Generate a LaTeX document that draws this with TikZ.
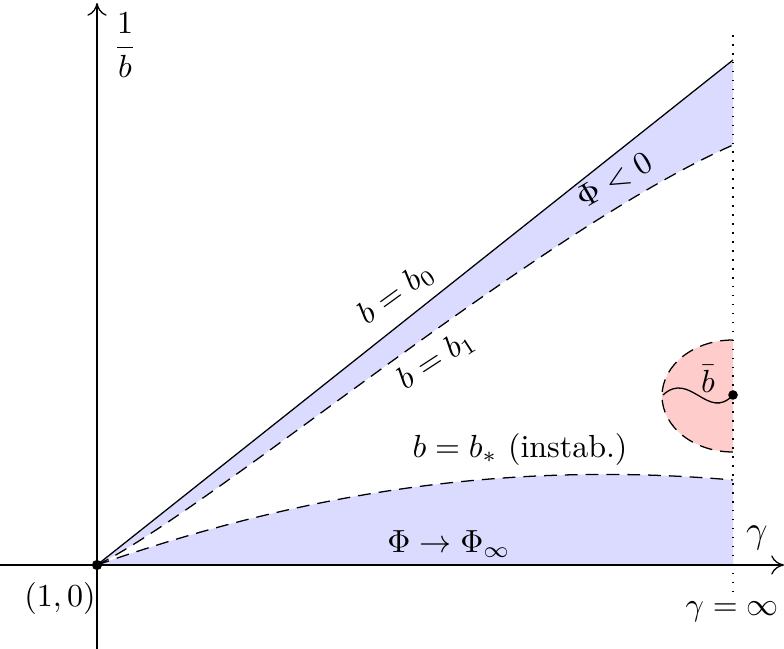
\documentclass[tikz,border=0pt]{standalone}
\usetikzlibrary{arrows.meta}
\begin{document}
\begin{tikzpicture}[x=0.3125pt,y=-0.3125pt,
  dsh/.style={dash pattern=on 4pt off 2.5pt},
  dotln/.style={dash pattern=on 0.5pt off 2.3pt},
  lbl/.style={inner sep=1pt}]
\useasboundingbox (0,0) rectangle (784,649);
\colorlet{wedge}{blue!14}
\colorlet{disc}{red!20}
\coordinate (O) at (97,565);
\coordinate (B0) at (733,60);
\coordinate (B1) at (733,145);
\coordinate (BS) at (733,480);
\coordinate (BB) at (733,395);
\coordinate (AX) at (733,565);
\coordinate (DT) at (733,340);
\coordinate (WL) at (663,395);
\coordinate (XL) at (0,565);
\coordinate (XR) at (784,565);
\coordinate (YB) at (97,649);
\coordinate (YT) at (97,3);
\coordinate (VT) at (733,35);
\coordinate (VB) at (733,594);
% fills
\fill[wedge] (O) -- (B0) -- (B1) .. controls (540,230) and (210,510) .. (O) -- cycle;
\fill[wedge] (O) .. controls (297,495) and (500,460) .. (BS) -- (AX) -- cycle;
\fill[disc] (DT) arc[start angle=270,end angle=90,x radius=71,y radius=56] -- cycle;
% axes
\draw[-{To[length=4pt,width=6pt]}] (XL) -- (XR);
\draw[-{To[length=4pt,width=6pt]}] (YB) -- (YT);
\draw[dotln] (VT) -- (VB);
% curves
\draw (O) -- (B0);
\draw[dsh] (O) .. controls (210,510) and (540,230) .. (B1);
\draw[dsh] (O) .. controls (297,495) and (500,460) .. (BS);
\draw[dsh] (DT) arc[start angle=270,end angle=90,x radius=71,y radius=56];
\draw (WL) .. controls (690,370) and (708,422) .. (BB);
\fill (BB) circle (1.5pt);
\fill (O) circle (1.6pt);
% labels
\node[lbl] (l10) at (60,598) {$(1,0)$};
\node[lbl] (linv) at (125,45) {$\displaystyle\frac{1}{b}$};
\node[lbl] (lg) at (757,538) {\large$\gamma$};
\node[lbl] (lginf) at (732,612) {$\gamma=\infty$};
\node[lbl,rotate=36] (lb0) at (396,294) {$b=b_0$};
\node[lbl,rotate=33] (lb1) at (436,360) {$b=b_1$};
\node[lbl,rotate=30] (lneg) at (614,180) {$\Phi<0$};
\node[lbl] (lbs) at (520,450) {$b=b_*$ (instab.)};
\node[lbl] (lphi) at (449,544) {$\Phi\to\Phi_\infty$};
\node[lbl] (lbar) at (708,379) {$\bar b$};
\end{tikzpicture}
\end{document}
